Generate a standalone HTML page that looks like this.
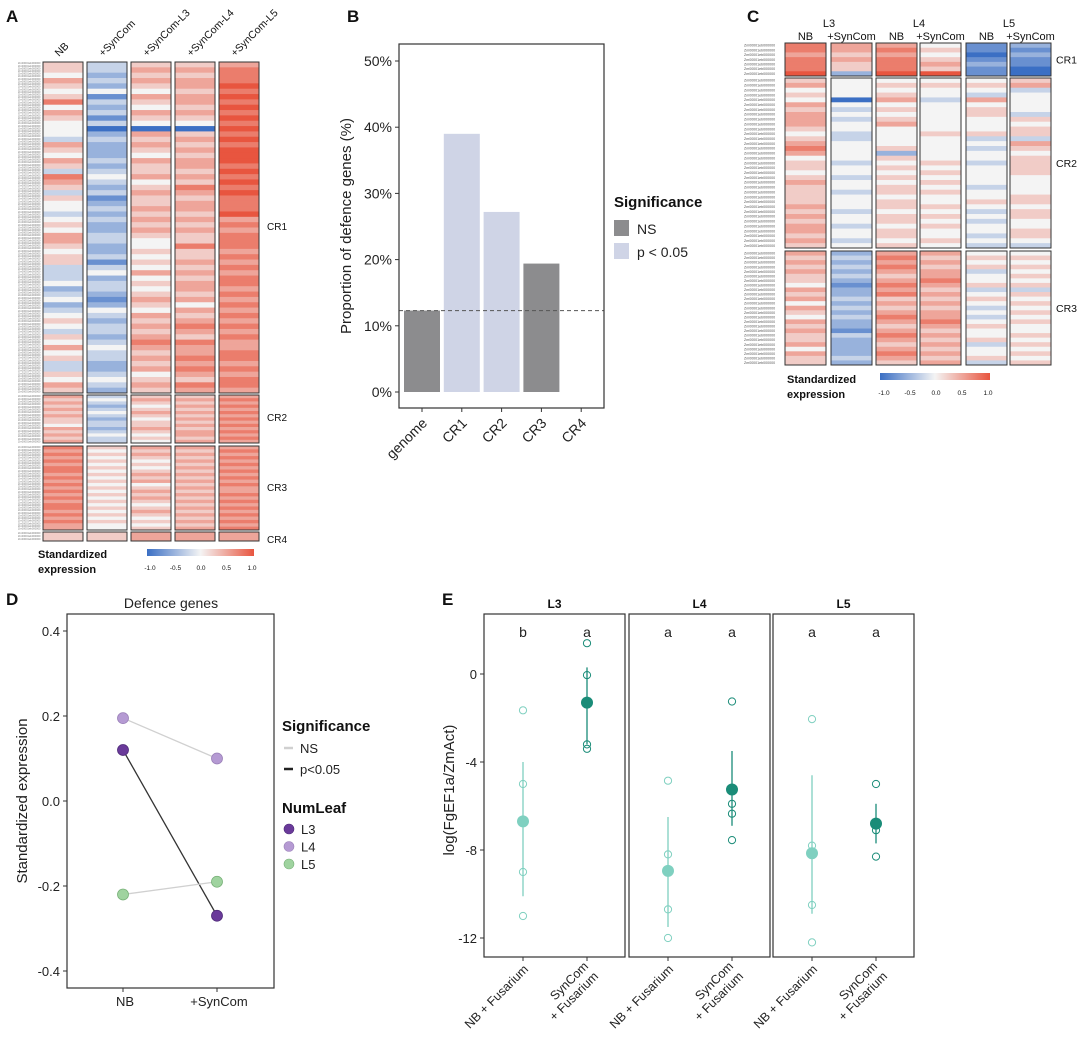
<!DOCTYPE html>
<html><head><meta charset="utf-8">
<style>
html,body{margin:0;padding:0;background:#fff;}
svg{display:block;font-family:"Liberation Sans",sans-serif;}
</style></head>
<body>
<svg id="fig" width="1080" height="1044" viewBox="0 0 1080 1044" xmlns="http://www.w3.org/2000/svg">
<defs>
<linearGradient id="grad" x1="0" x2="1" y1="0" y2="0">
<stop offset="0" stop-color="#3b6fc4"/><stop offset="0.5" stop-color="#f4f4f4"/><stop offset="1" stop-color="#e8553f"/>
</linearGradient>
</defs>
<g font-weight="bold" font-size="17" fill="#111">
<text x="6" y="22">A</text>
<text x="347" y="22">B</text>
<text x="747" y="22">C</text>
<text x="6" y="605">D</text>
<text x="442" y="605">E</text>
</g>
</svg>
<script>
// ---------- DATA ----------
// Panel A heatmap: per-column digit strings (0=-1.0 ... 4=0 ... 8=+1.0)
const aColumns = ["NB","+SynCom","+SynCom-L3","+SynCom-L4","+SynCom-L5"];
const aBlocks = ["CR1","CR2","CR3","CR4"];
const aCR1 = ["55465457465444365465376535443454665455333423423454354645335465",
              "33232413231302322232343231232322332231342332124323323433223432",
              "56565465465406565465564565565656544545464545654656567656564565",
              "56566566565405656566565765665656557556565665646567657667676576",
              "67778787878787878887878787778676777676767767676767676677676776"];
const aCR2 = ["656565655465656","343234323323433","565456545565454","565656565656656","676767676767676"];
const aCR3 = ["7676767767676767677676766","5454545454545454545454544","6565454565645656545654545","6565656565656565656565656","6767676767676676767676767"];
const aCR4 = ["55","55","66","66","66"];
// Panel B
const bCats = ["genome","CR1","CR2","CR3","CR4"];
const bVals = [12.3, 39.0, 27.2, 19.4, 0];
const bSig = ["NS","p < 0.05","p < 0.05","NS","NS"];
const bTicks = [0,10,20,30,40,50];
const bRef = 12.3;
// Panel C
const cGroups = ["L3","L4","L5"];
const cConds = ["NB","+SynCom","NB","+SynCom","NB","+SynCom"];
const cCR1 = ["7767778","6656552","6767778","4545658","1101211","2121100"];
const cCR2 = ["56454656665456764554565555656566565","44440434344334444344344344434434434","45456454564444525454545545545545545",
              "45443444444544444545454544545454454","45436455444534344344443445434344343","56344443545536545555444455455445543"];
const cCR3 = ["6565655465646546565564655","2323232122323232213222232","6767656767565676567656765",
              "6565667656565667656565656","4545344534543434544534453","4545454535454545445454545"];
// Panel D
const dConds = ["NB","+SynCom"];
const dLeaves = ["L3","L4","L5"];
const dNB = [0.12, 0.195, -0.22];
const dSyn = [-0.27, 0.10, -0.19];
const dSigs = ["p<0.05","NS","NS"];
const dTicks = [0.4,0.2,0.0,-0.2,-0.4];
// Panel E
const eLeaves = ["L3","L4","L5"];
const eLetters = [["b","a"],["a","a"],["a","a"]];
const eMeans = [[-6.7,-1.3],[-8.95,-5.25],[-8.15,-6.8]];
const eLo = [[-10.1,-3.2],[-11.5,-6.9],[-10.9,-7.7]];
const eHi = [[-4.0,0.3],[-6.5,-3.5],[-4.6,-5.9]];
const ePts = [[[-1.65,-5.0,-9.0,-11.0],[1.4,-0.05,-3.2,-3.4]],
              [[-4.85,-8.2,-10.7,-12.0],[-1.25,-5.9,-6.35,-7.55]],
              [[-2.05,-7.8,-10.5,-12.2],[-5.0,-7.1,-8.3]]];
const eTicks = [0,-4,-8,-12];

// ---------- helpers ----------
const NS="http://www.w3.org/2000/svg";
const svg=document.getElementById('fig');
function mk(tag,attrs,parent){const e=document.createElementNS(NS,tag);for(const k in attrs)e.setAttribute(k,attrs[k]);(parent||svg).appendChild(e);return e;}
function txt(s,attrs,parent){const e=mk('text',attrs,parent);e.textContent=s;return e;}
function mix(a,b,t){return a.map((v,i)=>Math.round(v+(b[i]-v)*t));}
function heat(v){const B=[59,111,196],W=[244,244,244],R=[232,85,63];
  const c=v<0?mix(W,B,-v):mix(W,R,v);return `rgb(${c[0]},${c[1]},${c[2]})`;}
function dv(ch){return (parseInt(ch)-4)/4;}
let el;

// ---------- Panel A ----------
const aX=[43,87,131,175,219], aW=40;
const aY=[[62,393],[395,443],[446,530],[532,541]];
const aData=[aCR1,aCR2,aCR3,aCR4];
const aLabY=[227,418,488,540];
aColumns.forEach((c,ci)=>{
  el=txt(c,{x:0,y:0,'font-size':10.5,fill:'#111',transform:`translate(${aX[ci]+aW/2-4},${57}) rotate(-45)`});
  
  
});
aBlocks.forEach((b,bi)=>{
  const [y0,y1]=aY[bi];
  aColumns.forEach((c,ci)=>{
    const s=aData[bi][ci]; const h=(y1-y0)/s.length;
    for(let r=0;r<s.length;r++){
      el=mk('rect',{x:aX[ci],y:y0+r*h,width:aW,height:h+0.4,fill:heat(dv(s[r]))});
      
      
    }
    el=mk('rect',{x:aX[ci],y:y0,width:aW,height:y1-y0,fill:'none',stroke:'#333','stroke-width':1});
    
    
  });
  el=txt(b,{x:267,y:aLabY[bi]+3,'font-size':10,fill:'#111'});
  
  
  const n=Math.round((y1-y0)/2.6);
  for(let r=0;r<n;r++){
    el=txt('Zm00001eb000000',{x:18,y:y0+r*(y1-y0)/n+2.2,'font-size':2.6,fill:'#777'});
    
    
  }
});
el=txt('Standardized',{x:38,y:558,'font-size':11,'font-weight':'bold',fill:'#111'});


el=txt('expression',{x:38,y:573,'font-size':11,'font-weight':'bold',fill:'#111'});


el=mk('rect',{x:147,y:549,width:107,height:7,fill:'url(#grad)'});


["-1.0","-0.5","0.0","0.5","1.0"].forEach((t,i)=>{
  el=txt(t,{x:150+i*25.5,y:570,'font-size':6.5,'text-anchor':'middle',fill:'#111'});
  
  
});

// ---------- Panel B ----------
const bx0=399,bx1=604,by0=44,by1=408;
const bY=v=>392-v*(392-61)/50;
const bXc=i=>422+i*39.8;
bTicks.forEach(t=>{
  el=mk('line',{x1:bx0-4,x2:bx0,y1:bY(t),y2:bY(t),stroke:'#333'});
  
  
  el=txt(t+'%',{x:bx0-7,y:bY(t)+5,'font-size':14,'text-anchor':'end',fill:'#222'});
  
  
});
bCats.forEach((c,i)=>{
  if(bVals[i]>0){
    el=mk('rect',{x:bXc(i)-18,y:bY(bVals[i]),width:36,height:bY(0)-bY(bVals[i]),fill:bSig[i]==='NS'?'#8c8c8e':'#cfd4e6'});
    
    
  }
  el=mk('line',{x1:bXc(i),x2:bXc(i),y1:by1,y2:by1+4,stroke:'#333'});
  
  
  el=txt(c,{x:0,y:0,'font-size':14,'text-anchor':'end',fill:'#222',transform:`translate(${bXc(i)+6},${by1+16}) rotate(-45)`});
  
  
});
el=mk('line',{x1:bx0,x2:bx1,y1:bY(bRef),y2:bY(bRef),stroke:'#555','stroke-dasharray':'4,3','stroke-width':1});


el=mk('rect',{x:bx0,y:by0,width:bx1-bx0,height:by1-by0,fill:'none',stroke:'#333','stroke-width':1.2});


el=txt('Proportion of defence genes (%)',{x:0,y:0,'font-size':15,'text-anchor':'middle',fill:'#222',transform:'translate(351,226) rotate(-90)'});


el=txt('Significance',{x:614,y:207,'font-size':15,'font-weight':'bold',fill:'#111'});


[["NS","#8c8c8e"],["p < 0.05","#cfd4e6"]].forEach((l,i)=>{
  el=mk('rect',{x:614,y:220+i*23,width:15,height:16,fill:l[1]});
  
  
  el=txt(l[0],{x:637,y:234+i*23,'font-size':14,fill:'#222'});
  
  
});

// ---------- Panel C ----------
const cX=[785,831,876,920,966,1010], cW=41;
const cY=[[43,76],[78,248],[251,365]];
const cData=[cCR1,cCR2,cCR3];
["CR1","CR2","CR3"].forEach((b,bi)=>{
  const [y0,y1]=cY[bi];
  cConds.forEach((c,ci)=>{
    const s=cData[bi][ci]; const h=(y1-y0)/s.length;
    for(let r=0;r<s.length;r++){
      el=mk('rect',{x:cX[ci],y:y0+r*h,width:cW,height:h+0.4,fill:heat(dv(s[r]))});
      
      
    }
    el=mk('rect',{x:cX[ci],y:y0,width:cW,height:y1-y0,fill:'none',stroke:'#333','stroke-width':1});
    
    
  });
  el=txt(b,{x:1056,y:(y0+y1)/2+4,'font-size':10.5,fill:'#111'});
  
  
  const n=cData[bi][0].length;
  for(let r=0;r<n;r++){
    el=txt('Zm00001eb000000',{x:744,y:y0+(r+0.5)*(y1-y0)/n+1.3,'font-size':3.6,fill:'#555'});
    
    
  }
});
cGroups.forEach((g,i)=>{
  el=txt(g,{x:829+i*90,y:27,'font-size':11,'text-anchor':'middle',fill:'#111'});
  
  
});
cConds.forEach((c,i)=>{
  el=txt(c,{x:cX[i]+cW/2,y:40,'font-size':11,'text-anchor':'middle',fill:'#111'});
  
  
});
el=txt('Standardized',{x:787,y:383,'font-size':11,'font-weight':'bold',fill:'#111'});


el=txt('expression',{x:787,y:398,'font-size':11,'font-weight':'bold',fill:'#111'});


el=mk('rect',{x:880,y:373,width:110,height:7,fill:'url(#grad)'});


["-1.0","-0.5","0.0","0.5","1.0"].forEach((t,i)=>{
  el=txt(t,{x:884+i*26,y:395,'font-size':6.5,'text-anchor':'middle',fill:'#111'});
  
  
});

// ---------- Panel D ----------
const dY=v=>801-v*425;
const dX=[123,217];
const leafCol={L3:'#6a3a9a',L4:'#b59ad3',L5:'#9fd39f'};
const leafStroke={L3:'#4e2a78',L4:'#9a80b8',L5:'#77b077'};
el=txt('Defence genes',{x:171,y:608,'font-size':14,'text-anchor':'middle',fill:'#222'});


dTicks.forEach(t=>{
  el=mk('line',{x1:63,x2:67,y1:dY(t),y2:dY(t),stroke:'#333'});
  
  
  el=txt(t.toFixed(1),{x:60,y:dY(t)+5,'font-size':13,'text-anchor':'end',fill:'#222'});
  
  
});
dConds.forEach((c,i)=>{
  el=mk('line',{x1:dX[i],x2:dX[i],y1:988,y2:992,stroke:'#333'});
  
  
  el=txt(c,{x:dX[i]+2,y:1006,'font-size':13,'text-anchor':'middle',fill:'#222'});
  
  
});
dLeaves.forEach((l,i)=>{
  el=mk('line',{x1:dX[0],y1:dY(dNB[i]),x2:dX[1],y2:dY(dSyn[i]),stroke:dSigs[i]==='NS'?'#d0d0d0':'#333','stroke-width':1.3});
  
  
});
dLeaves.forEach((l,i)=>{
  [dNB[i],dSyn[i]].forEach((v,j)=>{
    el=mk('circle',{cx:dX[j],cy:dY(v),r:5.5,fill:leafCol[l],stroke:leafStroke[l],'stroke-width':0.8});
    
    
  });
});
el=mk('rect',{x:67,y:614,width:207,height:374,fill:'none',stroke:'#333','stroke-width':1.2});


el=txt('Standardized expression',{x:0,y:0,'font-size':15,'text-anchor':'middle',fill:'#222',transform:'translate(27,801) rotate(-90)'});


el=txt('Significance',{x:282,y:731,'font-size':15,'font-weight':'bold',fill:'#111'});


[["NS","#d0d0d0"],["p<0.05","#222"]].forEach((l,i)=>{
  el=mk('line',{x1:284,x2:293,y1:748+i*21,y2:748+i*21,stroke:l[1],'stroke-width':2.5});
  
  
  el=txt(l[0],{x:300,y:753+i*21,'font-size':13,fill:'#222'});
  
  
});
el=txt('NumLeaf',{x:282,y:813,'font-size':15,'font-weight':'bold',fill:'#111'});


dLeaves.forEach((l,i)=>{
  el=mk('circle',{cx:289,cy:829+i*17.5,r:5,fill:leafCol[l],stroke:leafStroke[l],'stroke-width':0.6});
  
  
  el=txt(l,{x:301,y:834+i*17.5,'font-size':13,fill:'#222'});
  
  
});

// ---------- Panel E ----------
const eY=v=>674-v*22;
const eBoxX=[484,629,773], eBoxW=141;
const light='#7fd0c0', dark='#1a8c78';
eTicks.forEach(t=>{
  el=mk('line',{x1:480,x2:484,y1:eY(t),y2:eY(t),stroke:'#333'});
  
  
  el=txt(String(t),{x:477,y:eY(t)+5,'font-size':13,'text-anchor':'end',fill:'#222'});
  
  
});
eLeaves.forEach((l,pi)=>{
  const bx=eBoxX[pi];
  const xs=[bx+39,bx+103];
  el=txt(l,{x:bx+eBoxW/2,y:608,'font-size':12,'font-weight':'bold','text-anchor':'middle',fill:'#111'});
  
  
  [0,1].forEach(j=>{
    const col=j===0?light:dark;
    el=txt(eLetters[pi][j],{x:xs[j],y:637,'font-size':14,'text-anchor':'middle',fill:'#222'});
    
    
    el=mk('line',{x1:xs[j],x2:xs[j],y1:eY(eHi[pi][j]),y2:eY(eLo[pi][j]),stroke:col,'stroke-width':1.3});
    
    
    ePts[pi][j].forEach(v=>{
      el=mk('circle',{cx:xs[j],cy:eY(v),r:3.6,fill:'none',stroke:col,'stroke-width':1});
      
      
    });
    el=mk('circle',{cx:xs[j],cy:eY(eMeans[pi][j]),r:6,fill:col});
    
    
    el=mk('line',{x1:xs[j],x2:xs[j],y1:957,y2:961,stroke:'#333'});
    
    
  });
  el=txt('NB + Fusarium',{x:0,y:0,'font-size':12.5,'text-anchor':'end',fill:'#222',transform:`translate(${xs[0]+6},${970}) rotate(-45)`});
  
  
  el=txt('SynCom',{x:0,y:0,'font-size':12.5,'text-anchor':'end',fill:'#222',transform:`translate(${xs[1]+2},${967}) rotate(-45)`});
  
  
  el=txt('+ Fusarium',{x:0,y:0,'font-size':12.5,'text-anchor':'end',fill:'#222',transform:`translate(${xs[1]+12},${977}) rotate(-45)`});
  
  
  el=mk('rect',{x:bx,y:614,width:eBoxW,height:343,fill:'none',stroke:'#333','stroke-width':1.2});
  
  
});
el=txt('log(FgEF1a/ZmAct)',{x:0,y:0,'font-size':15,'text-anchor':'middle',fill:'#222',transform:'translate(454,790) rotate(-90)'});


</script>
</body></html>
